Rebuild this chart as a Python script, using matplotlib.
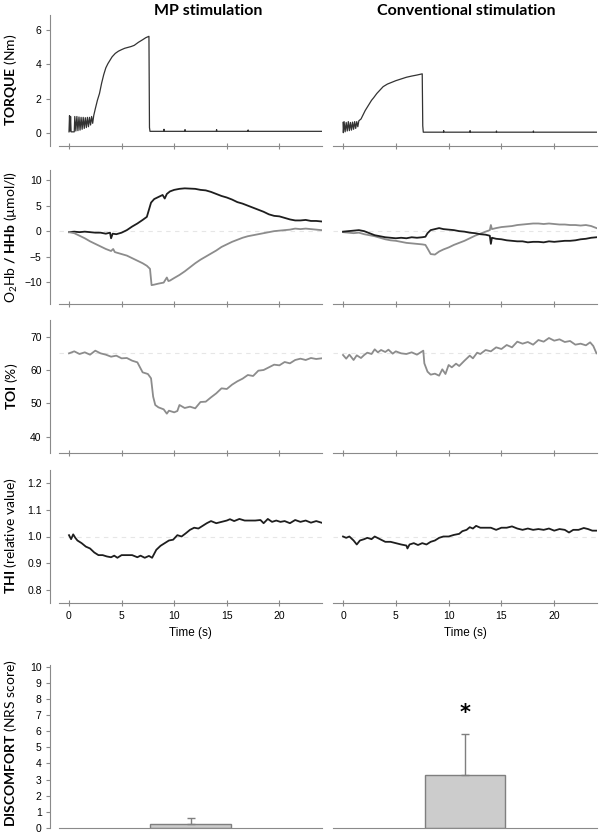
#!/usr/bin/env python3
from matplotlib import pyplot as plt
import numpy as np

plt.rcParams['font.family'] = ['Liberation Sans', 'DejaVu Sans']
plt.rcParams['mathtext.fontset'] = 'custom'
plt.rcParams['mathtext.rm'] = 'Lato'
plt.rcParams['mathtext.bf'] = 'Lato:bold'
plt.rcParams['mathtext.it'] = 'Lato:italic'

# ---- data ----
groups = ['MP stimulation', 'Conventional stimulation']
time_ticks = [0, 5, 10, 15, 20]

torque_mp_t = [0.0, 0.05, 0.1, 0.15, 0.2, 0.5, 0.55, 0.65, 0.75, 0.85,
               0.95, 1.05, 1.15, 1.25, 1.35, 1.45, 1.55, 1.65, 1.75, 1.85,
               1.95, 2.05, 2.15, 2.25, 2.35, 2.5, 2.7, 2.9, 3.1, 3.3,
               3.5, 3.7, 3.9, 4.1, 4.4, 4.7, 5.0, 5.3, 5.6, 5.9,
               6.2, 6.6, 7.0, 7.3, 7.6, 7.65, 7.7, 9.0, 9.03, 9.06,
               11.0, 11.03, 11.06, 14.0, 14.03, 14.06, 17.0, 17.03, 17.06, 24.0]
torque_mp = [0.05, 1.0, 0.1, 0.95, 0.05, 0.05, 0.95, 0.1, 0.95, 0.12,
             0.92, 0.15, 0.9, 0.2, 0.9, 0.25, 0.88, 0.3, 0.9, 0.35,
             0.9, 0.45, 0.95, 0.55, 1.0, 1.4, 1.9, 2.3, 2.9, 3.4,
             3.8, 4.05, 4.25, 4.45, 4.65, 4.78, 4.87, 4.95, 5.0, 5.05,
             5.12, 5.3, 5.45, 5.57, 5.65, 0.3, 0.08, 0.08, 0.2, 0.08,
             0.08, 0.18, 0.08, 0.08, 0.18, 0.08, 0.08, 0.16, 0.08, 0.08]

torque_conv_t = [0.0, 0.03, 0.1, 0.2, 0.3, 0.4, 0.5, 0.6, 0.7, 0.8,
                 0.9, 1.0, 1.1, 1.2, 1.3, 1.4, 1.5, 1.7, 1.9, 2.1,
                 2.3, 2.5, 2.7, 2.9, 3.2, 3.5, 3.8, 4.2, 4.6, 5.0,
                 5.5, 6.0, 6.5, 7.0, 7.5, 7.55, 7.6, 9.5, 9.53, 9.56,
                 12.0, 12.03, 12.06, 14.5, 14.53, 14.56, 18.0, 18.03, 18.06, 24.0]
torque_conv = [0.6, 0.0, 0.65, 0.05, 0.6, 0.1, 0.65, 0.12, 0.6, 0.15,
               0.62, 0.2, 0.65, 0.25, 0.65, 0.35, 0.7, 0.8, 1.05, 1.3,
               1.5, 1.7, 1.9, 2.05, 2.3, 2.5, 2.7, 2.85, 2.95, 3.05,
               3.15, 3.25, 3.32, 3.38, 3.45, 0.4, 0.03, 0.03, 0.12, 0.03,
               0.03, 0.12, 0.03, 0.03, 0.1, 0.03, 0.03, 0.1, 0.03, 0.03]

o2hb_mp_t = [0, 0.5, 1, 1.5, 2, 2.5, 3, 3.5, 3.9, 4.0,
             4.15, 4.5, 5, 5.5, 6, 6.5, 7, 7.4, 7.6, 7.8,
             8.1, 8.5, 8.9, 9.1, 9.3, 9.6, 10, 10.5, 11, 11.5,
             12, 12.5, 13, 13.5, 14, 14.5, 15, 15.5, 16, 16.5,
             17, 17.5, 18, 18.5, 19, 19.5, 20, 20.5, 21, 21.5,
             22, 22.5, 23, 23.5, 24]
o2hb_mp = [-0.2, -0.1, -0.2, -0.1, -0.2, -0.3, -0.3, -0.5, -0.3, -1.4,
           -0.5, -0.6, -0.3, 0.2, 0.9, 1.5, 2.2, 2.8, 4.2, 5.6,
           6.3, 6.7, 7.1, 6.4, 7.3, 7.8, 8.1, 8.3, 8.4, 8.35,
           8.3, 8.1, 8.0, 7.7, 7.3, 6.9, 6.6, 6.2, 5.7, 5.4,
           5.0, 4.6, 4.2, 3.8, 3.3, 3.0, 2.9, 2.6, 2.3, 2.1,
           2.1, 2.2, 2.0, 2.0, 1.9]

hhb_mp_t = [0, 0.5, 1, 1.5, 2, 2.5, 3, 3.5, 4, 4.2,
            4.35, 4.5, 5, 5.5, 6, 6.5, 7, 7.4, 7.7, 7.85,
            8.1, 8.5, 9, 9.3, 9.45, 9.6, 10, 10.5, 11, 11.5,
            12, 12.5, 13, 13.5, 14, 14.5, 15, 15.5, 16, 16.5,
            17, 17.5, 18, 18.5, 19, 19.5, 20, 20.5, 21, 21.5,
            22, 22.5, 23, 23.5, 24]
hhb_mp = [-0.2, -0.4, -0.9, -1.4, -2.0, -2.5, -3.0, -3.5, -3.9, -3.5,
          -4.1, -4.2, -4.5, -4.8, -5.3, -5.8, -6.3, -6.8, -7.4, -10.6,
          -10.5, -10.3, -10.1, -9.1, -9.8, -9.7, -9.2, -8.6, -7.9, -7.1,
          -6.3, -5.6, -5.0, -4.4, -3.8, -3.1, -2.6, -2.1, -1.7, -1.3,
          -1.0, -0.8, -0.6, -0.4, -0.2, 0.0, 0.1, 0.2, 0.3, 0.5,
          0.4, 0.5, 0.4, 0.3, 0.2]

hb_conv_t = [0, 0.5, 1, 1.5, 2, 2.5, 3, 3.5, 4, 4.5,
             5, 5.5, 6, 6.5, 7, 7.5, 7.8, 8.0, 8.3, 8.7,
             9.1, 9.5, 10, 10.5, 11, 11.5, 12, 12.5, 13, 13.5,
             13.9, 14.0, 14.1, 14.5, 15, 15.5, 16, 16.5, 17, 17.5,
             18, 18.5, 19, 19.5, 20, 20.5, 21, 21.5, 22, 22.5,
             23, 23.5, 24]
o2hb_conv = [-0.1, 0.0, 0.1, 0.2, 0.0, -0.4, -0.8, -1.0, -1.2, -1.3,
             -1.4, -1.3, -1.4, -1.2, -1.3, -1.2, -1.1, -0.4, 0.2, 0.4,
             0.6, 0.4, 0.3, 0.2, 0.0, -0.1, -0.3, -0.4, -0.6, -0.7,
             -0.9, -2.5, -1.3, -1.5, -1.6, -1.8, -1.9, -2.0, -2.0, -2.2,
             -2.1, -2.1, -2.2, -2.0, -2.1, -2.0, -1.9, -1.9, -1.8, -1.6,
             -1.5, -1.3, -1.2]
hhb_conv = [-0.2, -0.3, -0.4, -0.3, -0.6, -0.8, -1.0, -1.3, -1.6, -1.8,
            -1.9, -2.1, -2.3, -2.4, -2.5, -2.6, -2.7, -3.4, -4.5, -4.6,
            -4.0, -3.6, -3.2, -2.7, -2.3, -1.9, -1.4, -0.9, -0.5, -0.1,
            0.2, 1.2, 0.4, 0.6, 0.8, 0.9, 1.0, 1.2, 1.3, 1.4,
            1.5, 1.5, 1.4, 1.5, 1.4, 1.3, 1.3, 1.2, 1.2, 1.1,
            1.2, 1.0, 0.6]

toi_mp_t = [0, 0.5, 1, 1.5, 2, 2.5, 3, 3.5, 4, 4.5,
            5, 5.5, 6, 6.5, 6.8, 7.0, 7.5, 7.8, 8.0, 8.2,
            8.5, 9, 9.3, 9.5, 10, 10.3, 10.5, 11, 11.5, 12,
            12.5, 13, 13.5, 14, 14.5, 15, 15.5, 16, 16.5, 17,
            17.5, 18, 18.5, 19, 19.5, 20, 20.5, 21, 21.5, 22,
            22.5, 23, 23.5, 24]
toi_mp = [65.0, 65.6, 64.8, 65.3, 64.6, 65.8, 65.0, 64.6, 64.0, 64.3,
          63.5, 63.6, 62.8, 62.3, 60.5, 59.3, 58.8, 57.5, 52.0, 49.5,
          48.8, 48.2, 46.9, 47.8, 47.3, 47.7, 49.5, 48.6, 49.0, 48.5,
          50.4, 50.5, 51.8, 53.0, 54.5, 54.3, 55.6, 56.6, 57.4, 58.5,
          58.2, 59.8, 60.0, 60.8, 61.6, 61.4, 62.4, 62.0, 63.0, 63.4,
          63.0, 63.6, 63.3, 63.5]

toi_conv_t = [0, 0.3, 0.6, 1.0, 1.3, 1.7, 2.0, 2.3, 2.7, 3.0,
              3.3, 3.6, 4.0, 4.3, 4.7, 5.0, 5.5, 6.0, 6.5, 7.0,
              7.3, 7.6, 7.7, 8.0, 8.3, 8.7, 9.1, 9.4, 9.7, 10.0,
              10.3, 10.7, 11.0, 11.5, 12.0, 12.3, 12.7, 13.0, 13.5, 14.0,
              14.5, 15.0, 15.5, 16.0, 16.5, 17.0, 17.5, 18.0, 18.5, 19.0,
              19.5, 20.0, 20.5, 21.0, 21.5, 22.0, 22.5, 23.0, 23.4, 23.7,
              24.0]
toi_conv = [64.5, 63.4, 64.6, 63.0, 64.4, 63.6, 64.5, 65.2, 64.8, 66.2,
            65.3, 66.0, 65.4, 66.1, 64.9, 65.6, 65.0, 64.8, 65.3, 64.6,
            65.2, 65.8, 62.0, 59.5, 58.6, 58.9, 58.3, 60.2, 58.8, 61.5,
            60.8, 61.9, 61.2, 62.8, 64.3, 63.5, 65.2, 64.8, 66.0, 65.6,
            66.8, 66.3, 67.5, 66.8, 68.5, 67.9, 68.4, 67.6, 69.0, 68.5,
            69.6, 68.8, 69.2, 68.4, 68.7, 67.6, 67.9, 67.4, 68.3, 67.2,
            65.0]

thi_mp_t = [0, 0.2, 0.4, 0.6, 0.8, 1.2, 1.6, 2.0, 2.4, 2.8,
            3.2, 3.6, 4.0, 4.3, 4.6, 5.0, 5.5, 6.0, 6.5, 6.8,
            7.2, 7.6, 7.9, 8.3, 8.7, 9.1, 9.5, 9.9, 10.3, 10.7,
            11.1, 11.5, 11.9, 12.3, 12.7, 13.1, 13.5, 14.0, 14.5, 15.0,
            15.3, 15.7, 16.2, 16.7, 17.2, 17.7, 18.2, 18.5, 18.9, 19.3,
            19.7, 20.1, 20.5, 21.0, 21.5, 22.0, 22.5, 23.0, 23.5, 24.0]
thi_mp = [1.005, 0.99, 1.008, 0.995, 0.985, 0.975, 0.962, 0.955, 0.94, 0.93,
          0.93, 0.925, 0.922, 0.928, 0.92, 0.93, 0.93, 0.93, 0.922, 0.928,
          0.92, 0.927, 0.92, 0.95, 0.965, 0.975, 0.985, 0.988, 1.005, 1.0,
          1.012, 1.025, 1.033, 1.03, 1.04, 1.05, 1.058, 1.05, 1.055, 1.06,
          1.065, 1.058, 1.066, 1.06, 1.06, 1.06, 1.062, 1.05, 1.066, 1.055,
          1.06, 1.055, 1.058, 1.05, 1.062, 1.055, 1.06, 1.052, 1.058, 1.052]

thi_conv_t = [0, 0.3, 0.6, 1.0, 1.3, 1.6, 2.0, 2.3, 2.7, 3.0,
              3.5, 4.0, 4.5, 5.0, 5.5, 6.0, 6.1, 6.3, 6.7, 7.1,
              7.5, 7.9, 8.3, 8.7, 9.1, 9.5, 10.0, 10.5, 11.0, 11.3,
              11.7, 12.0, 12.3, 12.6, 13.0, 13.5, 14.0, 14.5, 15.0, 15.5,
              16.0, 16.5, 17.0, 17.5, 18.0, 18.5, 19.0, 19.5, 20.0, 20.5,
              21.0, 21.4, 21.8, 22.3, 22.8, 23.2, 23.6, 24.0]
thi_conv = [1.0, 0.995, 1.0, 0.985, 0.97, 0.985, 0.99, 0.995, 0.99, 1.0,
            0.99, 0.98, 0.98, 0.975, 0.97, 0.966, 0.955, 0.97, 0.975, 0.968,
            0.975, 0.97, 0.98, 0.985, 0.995, 1.0, 1.0, 1.006, 1.01, 1.02,
            1.025, 1.035, 1.03, 1.04, 1.033, 1.033, 1.033, 1.025, 1.033, 1.033,
            1.038, 1.03, 1.025, 1.03, 1.025, 1.028, 1.025, 1.03, 1.022, 1.028,
            1.025, 1.015, 1.025, 1.025, 1.032, 1.028, 1.022, 1.022]

nrs_mean = [0.23, 3.27]
nrs_sd = [0.39, 2.57]

# ---- layout (pixel boxes in a 600x833 figure) ----
W, H = 600, 833
cols = [(59, 322), (333, 597)]
rows = [(15, 146), (170, 304), (320, 453), (470, 603), (665, 828)]

DARK = '#1e1e1e'
GREY = '#8c8c8c'
SPINE = '#8a8a8a'
REF = '#e6e6e6'

fig = plt.figure(figsize=(W / 100, H / 100), dpi=100)


def box(c, r):
    x0, x1 = cols[c]
    y0, y1 = rows[r]
    return fig.add_axes([x0 / W, 1 - y1 / H, (x1 - x0) / W, (y1 - y0) / H])


def style(ax, left):
    ax.spines['top'].set_visible(False)
    ax.spines['right'].set_visible(False)
    ax.spines['bottom'].set_color(SPINE)
    if left:
        ax.spines['left'].set_color(SPINE)
        ax.spines['left'].set_position(('outward', 6.5))
        ax.tick_params(axis='y', colors=SPINE, labelcolor='black', length=3,
                       labelsize=7.5, pad=3)
    else:
        ax.spines['left'].set_visible(False)
        ax.tick_params(axis='y', left=False, labelleft=False)
    ax.set_facecolor('none')


ylims = [(-0.78, 6.9), (-14.3, 12), (35.1, 75), (0.75, 1.25)]
yticks = [[0, 2, 4, 6], [-10, -5, 0, 5, 10], [40, 50, 60, 70],
          [0.8, 0.9, 1.0, 1.1, 1.2]]
refs = [None, 0, 65, 1.0]

for c in range(2):
    axes = [box(c, r) for r in range(4)]
    for r, ax in enumerate(axes):
        style(ax, c == 0)
        ax.set_xlim(-0.95, 24.05)
        ax.set_ylim(*ylims[r])
        ax.set_yticks(yticks[r])
        ax.set_xticks(time_ticks)
        ax.tick_params(axis='x', direction='inout', length=4, colors=SPINE,
                       labelcolor='black', labelsize=7.5, pad=4,
                       labelbottom=(r == 3))
        if refs[r] is not None:
            ax.axhline(refs[r], color=REF, lw=0.8, ls=(0, (4, 4)), zorder=0)
    if c == 0:
        axes[0].plot(torque_mp_t, torque_mp, color='#333333', lw=0.9)
        axes[1].plot(o2hb_mp_t, o2hb_mp, color=DARK, lw=1.3)
        axes[1].plot(hhb_mp_t, hhb_mp, color=GREY, lw=1.3)
        axes[2].plot(toi_mp_t, toi_mp, color=GREY, lw=1.3)
        axes[3].plot(thi_mp_t, thi_mp, color=DARK, lw=1.3)
        axes[3].set_yticklabels(['%.1f' % v for v in yticks[3]])
    else:
        axes[0].plot(torque_conv_t, torque_conv, color='#333333', lw=0.9)
        axes[1].plot(hb_conv_t, hhb_conv, color=GREY, lw=1.3)
        axes[1].plot(hb_conv_t, o2hb_conv, color=DARK, lw=1.3)
        axes[2].plot(toi_conv_t, toi_conv, color=GREY, lw=1.3)
        axes[3].plot(thi_conv_t, thi_conv, color=DARK, lw=1.3)
    axes[3].set_xlabel('Time (s)', fontsize=8.5, labelpad=4)

    # discomfort bars
    bx = box(c, 4)
    style(bx, c == 0)
    bx.set_xlim(-1, 1)
    bx.set_ylim(0, 10.1)
    bx.set_yticks(range(0, 11))
    bx.tick_params(axis='x', bottom=False, labelbottom=False)
    bx.bar([0], [nrs_mean[c]], width=0.61, color='#cccccc', edgecolor='#7f7f7f',
           linewidth=1.0, yerr=[[0], [nrs_sd[c]]], capsize=3,
           error_kw=dict(ecolor='#7f7f7f', elinewidth=1.0, capthick=1.0))
    if c == 1:
        bx.text(0, nrs_mean[c] + nrs_sd[c] + 1.3, '*', ha='center', va='center',
                fontsize=15, fontweight='bold', family='DejaVu Sans')

# column titles
fig.text(208 / W, 1 - 11 / H, groups[0], ha='center', va='center',
         fontsize=11.5, fontweight='bold', family='Lato')
fig.text(466 / W, 1 - 11 / H, groups[1], ha='center', va='center',
         fontsize=11.5, fontweight='bold', family='Lato')

# y labels (bold first word, as in the original)
ylabels = [r'$\mathbf{TORQUE}$ (Nm)',
           r'O$_2$Hb $\mathbf{/\ HHb}$ (µmol/l)',
           r'$\mathbf{TOI}$ (%)',
           r'$\mathbf{THI}$ (relative value)',
           r'$\mathbf{DISCOMFORT}$ (NRS score)']
centers = [80, 237, 386, 536, 743]
for lab, yc in zip(ylabels, centers):
    fig.text(11 / W, 1 - yc / H, lab, rotation=90, ha='center', va='center',
             fontsize=10, family='Lato')

fig.savefig('out.png', dpi=100)
